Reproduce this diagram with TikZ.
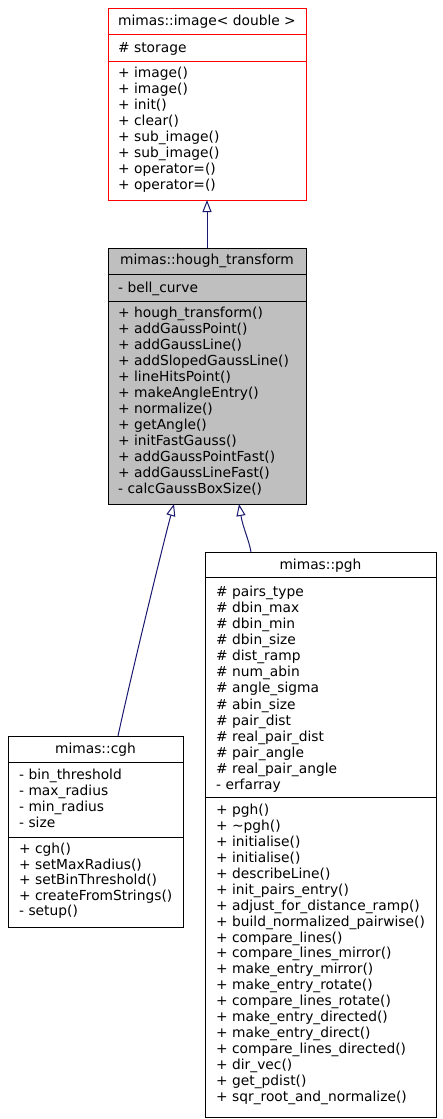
\documentclass[tikz,border=0pt]{standalone}
\usepackage{fontspec}
\setmainfont{DejaVu Sans}
\usetikzlibrary{arrows.meta,calc}
\definecolor{edgeblue}{HTML}{191970}
\definecolor{boxgray}{HTML}{BFBFBF}
\definecolor{boxred}{HTML}{FF0000}
\begin{document}
\begin{tikzpicture}[x=1pt,y=-1pt,
  box/.style={draw, line width=1pt, inner sep=0pt, outer sep=0pt, anchor=north west},
  mem/.style={anchor=base west, inner sep=0pt, font=\fontsize{13.8}{16}\selectfont},
  ttl/.style={anchor=base, inner sep=0pt, font=\fontsize{13.8}{16}\selectfont},
  sepline/.style={line width=1pt},
  edge/.style={draw=edgeblue, line width=1pt, -{Triangle[open,length=12pt,width=9pt]}}
]
\useasboundingbox (0,0) rectangle (442,1119);

% ---------- boxes ----------
\node[box, draw=boxred, fill=white, minimum width=198pt, minimum height=192pt] (img) at (108,8) {};
\node[box, fill=boxgray, minimum width=198pt, minimum height=256pt] (hough) at (108,248) {};
\node[box, fill=white, minimum width=175pt, minimum height=191pt] (cgh) at (8,736) {};
\node[box, fill=white, minimum width=231pt, minimum height=565pt] (pgh) at (205,552) {};

% ---------- separators ----------
\draw[sepline, boxred] (img.west |- 0,34) -- (img.east |- 0,34);
\draw[sepline, boxred] (img.west |- 0,61) -- (img.east |- 0,61);
\draw[sepline] (hough.west |- 0,274) -- (hough.east |- 0,274);
\draw[sepline] (hough.west |- 0,301) -- (hough.east |- 0,301);
\draw[sepline] (cgh.west |- 0,762) -- (cgh.east |- 0,762);
\draw[sepline] (cgh.west |- 0,837) -- (cgh.east |- 0,837);
\draw[sepline] (pgh.west |- 0,577) -- (pgh.east |- 0,577);
\draw[sepline] (pgh.west |- 0,797) -- (pgh.east |- 0,797);

% ---------- image<double> ----------
\node[ttl] (imgt) at (207,25.5) {mimas::image< double >};
\node[mem] (imga0) at (118,52.5) {\# storage};
\foreach \t [count=\k from 0] in {+ image(), + image(), + init(), + clear(), + sub\_image(), + sub\_image(), + operator=(), + operator=()}
  \node[mem] (imgm\k) at (118,77.5+16*\k) {\t};

% ---------- hough_transform ----------
\node[ttl] (hought) at (207,264.5) {mimas::hough\_transform};
\node[mem] (hougha0) at (118,292.5) {- bell\_curve};
\foreach \t [count=\k from 0] in {+ hough\_transform(), + addGaussPoint(), + addGaussLine(), + addSlopedGaussLine(), + lineHitsPoint(), + makeAngleEntry(), + normalize(), + getAngle(), + initFastGauss(), + addGaussPointFast(), + addGaussLineFast(), - calcGaussBoxSize()}
  \node[mem] (houghm\k) at (118,317.5+16*\k) {\t};

% ---------- cgh ----------
\node[ttl] (cght) at (95.5,753.5) {mimas::cgh};
\foreach \t [count=\k from 0] in {- bin\_threshold, - max\_radius, - min\_radius, - size}
  \node[mem] (cgha\k) at (19,779.5+16*\k) {\t};
\foreach \t [count=\k from 0] in {+ cgh(), + setMaxRadius(), + setBinThreshold(), + createFromStrings(), - setup()}
  \node[mem] (cghm\k) at (19,853.5+15.6*\k) {\t};

% ---------- pgh ----------
\node[ttl] (pght) at (320.5,569.5) {mimas::pgh};
\foreach \t [count=\k from 0] in {\# pairs\_type, \# dbin\_max, \# dbin\_min, \# dbin\_size, \# dist\_ramp, \# num\_abin, \# angle\_sigma, \# abin\_size, \# pair\_dist, \# real\_pair\_dist, \# pair\_angle, \# real\_pair\_angle, - erfarray}
  \node[mem] (pgha\k) at (216,596.5+16.08*\k) {\t};
\foreach \t [count=\k from 0] in {+ pgh(), + \textasciitilde pgh(), + initialise(), + initialise(), + describeLine(), + init\_pairs\_entry(), + adjust\_for\_distance\_ramp(), + build\_normalized\_pairwise(), + compare\_lines(), + compare\_lines\_mirror(), + make\_entry\_mirror(), + make\_entry\_rotate(), + compare\_lines\_rotate(), + make\_entry\_directed(), + make\_entry\_direct(), + compare\_lines\_directed(), + dir\_vec(), + get\_pdist(), + sqr\_root\_and\_normalize()}
  \node[mem] (pghm\k) at (216,814.5+15.94*\k) {\t};

% ---------- inheritance edges ----------
\draw[edge] (hough.north) -- (img.south);
\draw[edge] ($(cgh.north)+(22.5,0)$) .. controls ($(cgh.north)+(34.5,-56)$) and ($(hough.south)+(-43,36)$) .. ($(hough.south)+(-33,0)$);
\draw[edge] ($(pgh.north)+(-69.5,0)$) .. controls ($(pgh.north)+(-71.5,-12)$) and ($(hough.south)+(36,24)$) .. ($(hough.south)+(32,0)$);
\end{tikzpicture}
\end{document}
